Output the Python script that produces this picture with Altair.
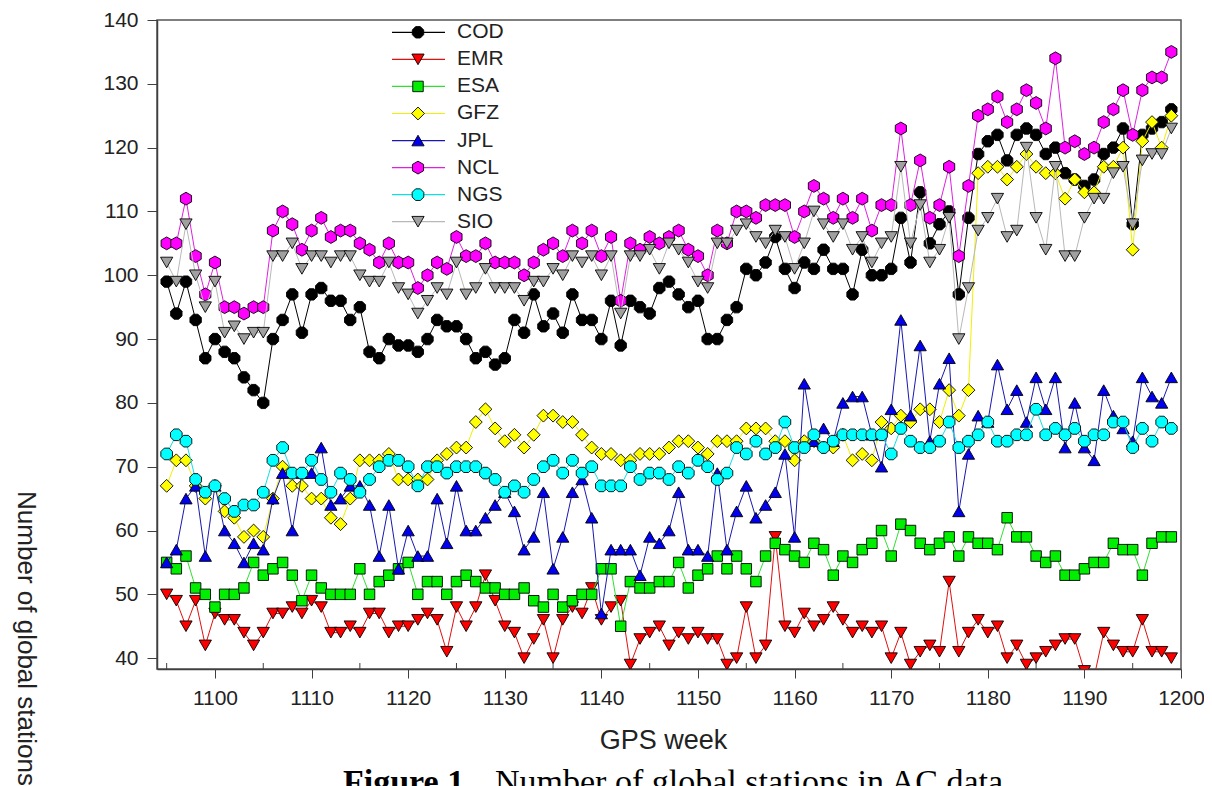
import altair as alt
import pandas as pd

weeks = list(range(1095, 1200))

COD = [99, 94, 99, 93, 87, 90, 88, 87, 84, 82,
       80, 90, 93, 97, 91, 97, 98, 96, 96, 93,
       95, 88, 87, 90, 89, 89, 88, 90, 93, 92,
       92, 90, 87, 88, 86, 87, 93, 91, 97, 92,
       94, 91, 97, 93, 93, 90, 96, 89, 96, 95,
       94, 98, 99, 97, 95, 96, 90, 90, 93, 95,
       101, 100, 102, 106, 101, 98, 102, 101, 104, 101,
       101, 97, 104, 100, 100, 101, 109, 102, 113, 105,
       108, 110, 97, 109, 119, 121, 122, 118, 122, 123,
       122, 119, 120, 116, 115, 114, 115, 119, 120, 123,
       108, 122, 123, 124, 126]

EMR = [50, 49, 45, 49, 42, 47, 46, 46, 44, 42,
       44, 47, 47, 48, 47, 49, 48, 44, 44, 45,
       44, 47, 47, 44, 45, 45, 46, 47, 46, 41,
       48, 45, 48, 53, 49, 45, 44, 40, 43, 46,
       40, 46, 48, 47, 51, 46, 48, 49, 39, 43,
       44, 45, 42, 44, 43, 44, 43, 43, 39, 40,
       48, 40, 42, 59, 45, 44, 47, 45, 46, 48,
       46, 44, 45, 44, 45, 40, 44, 39, 41, 42,
       41, 52, 41, 44, 46, 44, 45, 40, 42, 39,
       40, 41, 42, 43, 43, 38, 37, 44, 42, 41,
       41, 46, 41, 41, 40]

ESA = [55, 54, 56, 51, 50, 48, 50, 50, 51, 55,
       53, 54, 55, 53, 49, 53, 51, 50, 50, 50,
       54, 50, 52, 53, 54, 55, 50, 52, 52, 50,
       52, 53, 52, 51, 51, 50, 50, 51, 49, 48,
       50, 48, 49, 50, 50, 54, 54, 45, 52, 51,
       51, 52, 52, 55, 51, 53, 54, 56, 54, 56,
       54, 52, 56, 58, 57, 56, 55, 58, 57, 53,
       56, 55, 57, 58, 60, 56, 61, 60, 58, 57,
       58, 59, 56, 59, 58, 58, 57, 62, 59, 59,
       56, 55, 56, 53, 53, 54, 55, 55, 58, 57,
       57, 53, 58, 59, 59]

GFZ = [67, 71, 71, 67, 65, 67, 63, 62, 59, 60,
       59, 65, 70, 67, 67, 65, 65, 62, 61, 65,
       71, 71, 71, 72, 68, 68, 68, 68, 71, 72,
       73, 73, 77, 79, 76, 74, 75, 73, 75, 78,
       78, 77, 77, 75, 73, 72, 72, 71, 71, 72,
       72, 72, 73, 74, 74, 73, 72, 74, 74, 74,
       76, 76, 76, 74, 74, 71, 74, 74, 73, 73,
       75, 71, 72, 71, 77, 76, 78, 77, 79, 79,
       77, 82, 78, 82, 116, 117, 117, 115, 117, 119,
       117, 116, 116, 112, 115, 113, 113, 117, 117, 120,
       104, 121, 124, 120, 125]

JPL = [55, 57, 65, 67, 56, 67, 60, 58, 55, 58,
       57, 65, 69, 60, 69, 69, 73, 64, 65, 67,
       67, 64, 56, 64, 54, 60, 56, 56, 65, 58,
       67, 60, 60, 62, 64, 66, 63, 57, 59, 66,
       54, 59, 66, 68, 62, 47, 57, 57, 57, 53,
       59, 58, 60, 66, 57, 57, 56, 69, 57, 63,
       67, 62, 64, 66, 72, 59, 83, 74, 76, 74,
       80, 81, 81, 75, 70, 79, 93, 78, 89, 74,
       83, 87, 63, 72, 78, 77, 86, 79, 82, 77,
       84, 79, 84, 73, 80, 73, 71, 82, 78, 76,
       74, 84, 81, 80, 84]

NCL = [105, 105, 112, 103, 97, 102, 95, 95, 94, 95,
       95, 107, 110, 108, 104, 107, 109, 106, 107, 107,
       105, 104, 102, 105, 102, 102, 98, 100, 102, 101,
       106, 103, 103, 105, 102, 102, 102, 100, 102, 104,
       105, 103, 107, 105, 107, 103, 106, 96, 105, 104,
       106, 105, 106, 107, 104, 103, 100, 107, 105, 110,
       110, 109, 111, 111, 111, 106, 110, 114, 112, 109,
       112, 109, 112, 107, 111, 111, 123, 111, 118, 109,
       111, 117, 103, 114, 125, 126, 128, 124, 126, 129,
       127, 123, 134, 120, 121, 119, 120, 124, 126, 129,
       122, 129, 131, 131, 135]

NGS = [72, 75, 74, 68, 66, 67, 65, 63, 64, 64,
       66, 71, 73, 69, 69, 71, 68, 66, 69, 68,
       66, 68, 70, 71, 71, 70, 67, 70, 70, 69,
       70, 70, 70, 69, 68, 66, 67, 66, 68, 70,
       71, 69, 71, 69, 70, 67, 67, 67, 70, 68,
       69, 69, 68, 70, 69, 71, 70, 68, 69, 73,
       72, 74, 72, 73, 77, 73, 73, 75, 73, 74,
       75, 75, 75, 75, 75, 72, 76, 74, 73, 73,
       74, 77, 73, 74, 75, 77, 74, 74, 75, 75,
       79, 75, 76, 75, 76, 74, 75, 75, 77, 77,
       73, 76, 74, 77, 76]

SIO = [102, 99, 108, 100, 95, 99, 91, 92, 90, 91,
       91, 103, 103, 105, 101, 103, 103, 102, 103, 103,
       100, 99, 99, 102, 98, 97, 94, 96, 98, 97,
       102, 97, 98, 101, 98, 98, 98, 96, 99, 99,
       101, 100, 103, 102, 103, 100, 103, 94, 103, 103,
       104, 101, 105, 104, 102, 99, 98, 105, 105, 107,
       108, 106, 105, 107, 106, 101, 105, 110, 108, 106,
       108, 104, 106, 102, 105, 106, 117, 105, 111, 102,
       104, 109, 90, 98, 107, 109, 112, 106, 107, 120,
       109, 104, 117, 103, 103, 109, 112, 112, 116, 117,
       108, 118, 119, 119, 123]

names = ["COD", "EMR", "ESA", "GFZ", "JPL", "NCL", "NGS", "SIO"]
series = [COD, EMR, ESA, GFZ, JPL, NCL, NGS, SIO]
x_ticks = list(range(1100, 1201, 10))
x_minor = list(range(1095, 1200, 10))
y_ticks = list(range(40, 141, 10))

HEX = "M0,-1L0.866,-0.5L0.866,0.5L0,1L-0.866,0.5L-0.866,-0.5Z"
OCT = "M-0.41,-1L0.41,-1L1,-0.41L1,0.41L0.41,1L-0.41,1L-1,0.41L-1,-0.41Z"
line_colors = ["#000000", "#e01010", "#30e030", "#f0f000", "#1818b0", "#e020e0", "#10e0e0", "#b8b8b8"]
fill_colors = ["#000000", "#ff0000", "#00ee00", "#ffff00", "#0000ee", "#ff00ff", "#00ffff", "#a0a0a0"]
shapes = [OCT, "triangle-down", "square", "diamond", "triangle-up", HEX, OCT, "triangle-down"]
sizes = [130, 150, 110, 165, 150, 165, 135, 150]

W, H = 1024, 649
AX = "#404040"
TXT = "#222222"
FONT = "Liberation Sans"

xs = alt.Scale(domain=[1094, 1200], nice=False, zero=False)
ys = alt.Scale(domain=[38.3, 140], nice=False, zero=False)

xenc = alt.X("week:Q", scale=xs, axis=alt.Axis(
    values=x_ticks, format="d", tickSize=9, tickColor=AX, tickWidth=1,
    domainColor=AX, domainWidth=1.5, grid=False,
    labelFontSize=21, labelFont=FONT, labelColor=TXT, labelPadding=9,
    labelFlush=False, labelOverlap=False,
    title="GPS week", titleFontSize=27, titleFont=FONT, titleFontWeight="normal",
    titleColor=TXT, titleX=506, titleY=71, titleAlign="center", titleBaseline="middle"))
yenc = alt.Y("value:Q", scale=ys, axis=alt.Axis(
    values=y_ticks, format="d", tickSize=10, tickColor=AX, tickWidth=1,
    domainColor=AX, domainWidth=1.5, grid=False,
    labelFontSize=21, labelFont=FONT, labelColor=TXT, labelPadding=9,
    labelFlush=False, labelOverlap=False,
    title="Number of global stations", titleFontSize=26, titleFont=FONT,
    titleFontWeight="normal", titleColor=TXT, titleAngle=90,
    titleX=-132, titleY=618, titleAlign="center", titleBaseline="middle"))

layers = []
for i, name in enumerate(names):
    d = pd.DataFrame({"week": weeks, "value": series[i]})
    base = alt.Chart(d).encode(x=xenc, y=yenc)
    layers.append(base.mark_line(color=line_colors[i], strokeWidth=1, clip=True))
    layers.append(base.mark_point(shape=shapes[i], size=sizes[i], filled=True,
                                  color=fill_colors[i], stroke="#000000",
                                  strokeWidth=0.9, opacity=1, clip=True))

minor = alt.Chart(pd.DataFrame({"week": x_minor})).mark_rule(
    color=AX, strokeWidth=1).encode(x=xenc, y=alt.value(H), y2=alt.value(H - 6))
layers.append(minor)

one = pd.DataFrame({"k": [0]})
for i, name in enumerate(names):
    ly = 12.3 + 27.06 * i
    layers.append(alt.Chart(one).mark_rule(color=line_colors[i], strokeWidth=1.2).encode(
        x=alt.value(235), x2=alt.value(288), y=alt.value(ly)))
    layers.append(alt.Chart(one).mark_point(shape=shapes[i], size=sizes[i], filled=True,
                                            color=fill_colors[i], stroke="#000000",
                                            strokeWidth=0.9, opacity=1).encode(
        x=alt.value(261), y=alt.value(ly)))
    layers.append(alt.Chart(one).mark_text(align="left", baseline="middle", fontSize=21,
                                           font=FONT, color=TXT).encode(
        x=alt.value(300), y=alt.value(ly), text=alt.value(name)))

layers.append(alt.Chart(one).mark_text(align="left", baseline="alphabetic", fontSize=34,
                                       font="Liberation Serif", fontWeight="bold",
                                       color="#000000").encode(
    x=alt.value(186), y=alt.value(773), text=alt.value("Figure 1.")))
layers.append(alt.Chart(one).mark_text(align="left", baseline="alphabetic", fontSize=34,
                                       font="Liberation Serif", color="#000000").encode(
    x=alt.value(338), y=alt.value(773), text=alt.value("Number of global stations in AC data")))

chart = alt.layer(*layers).properties(
    width=W, height=H,
    padding={"left": 149, "top": 12, "right": 23, "bottom": 150},
    autosize=alt.AutoSizeParams(type="none"),
).configure_view(stroke="#555555", strokeWidth=1.5)

chart.save("out.html", embed_options={"renderer": "svg", "actions": False})
